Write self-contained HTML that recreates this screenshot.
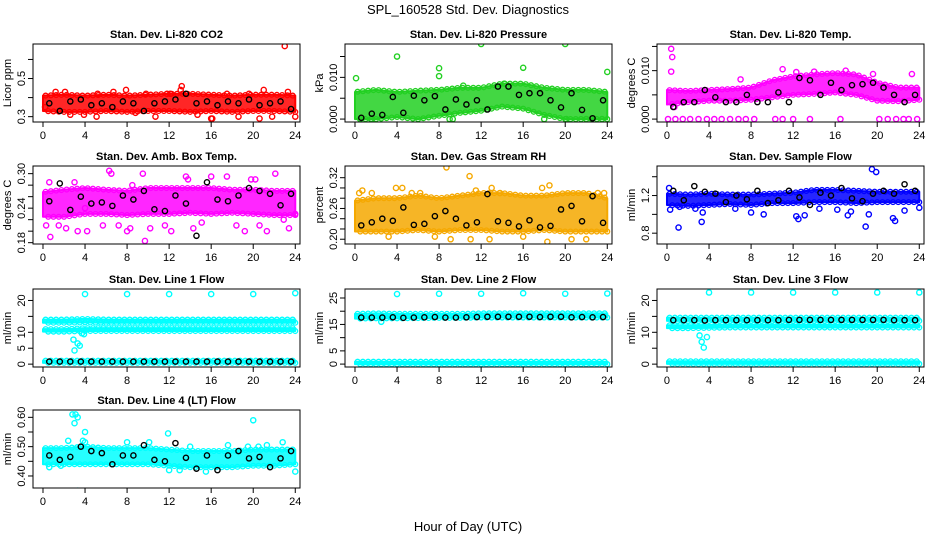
<!DOCTYPE html>
<html><head><meta charset="utf-8"><title>SPL_160528 Std. Dev. Diagnostics</title>
<style>
html,body{margin:0;padding:0;background:#fff;}
svg{display:block;font-family:"Liberation Sans",Arial,sans-serif;}
</style></head>
<body>
<svg id="chart" width="936" height="540" viewBox="0 0 936 540" xmlns="http://www.w3.org/2000/svg">
<rect x="0" y="0" width="936" height="540" fill="#fff"/>
<text x="468" y="14" font-size="13" text-anchor="middle">SPL_160528  Std. Dev. Diagnostics</text>
<text x="468" y="531" font-size="13" text-anchor="middle">Hour of Day (UTC)</text>
</svg>
<script>
// shared hour grids (categories)
const bandHours = [0,2,4,6,8,10,12,14,16,18,20,22,24];
const meanHours = [0.6,1.6,2.6,3.6,4.6,5.6,6.6,7.6,8.6,9.6,10.6,11.6,12.6,13.6,14.6,15.6,16.6,17.6,18.6,19.6,20.6,21.6,22.6,23.6];
const xTicks = [0,4,8,12,16,20,24];

// P1 CO2
const co2Lo = [0.33,0.325,0.325,0.33,0.325,0.33,0.33,0.325,0.33,0.325,0.33,0.33,0.325];
const co2Hi = [0.41,0.415,0.41,0.415,0.41,0.415,0.42,0.42,0.415,0.41,0.415,0.415,0.41];
const co2PtX = [0.2,1.2,2.6,3.9,5.1,6.7,7.9,8.8,10.7,11.8,13.2,13.1,14.7,16,16.1,17.5,19.6,20.6,21,21.8,23,23.3,24,5.2,9.8,18.6,2.1,12.1];
const co2PtY = [0.35,0.43,0.31,0.31,0.3,0.43,0.44,0.32,0.3,0.42,0.46,0.44,0.31,0.29,0.29,0.42,0.42,0.29,0.44,0.3,0.67,0.43,0.3,0.42,0.42,0.3,0.43,0.42];
const co2Mean = [0.37,0.33,0.38,0.39,0.36,0.37,0.35,0.38,0.37,0.33,0.37,0.38,0.39,0.42,0.37,0.38,0.36,0.38,0.37,0.39,0.36,0.37,0.38,0.34];
const co2YTicks = [0.3,0.4,0.5,0.6];
const co2YLabels = ['0.3','','0.5',''];

// P2 Pressure
const presLo = [0,0,0.0005,0,0.0008,0.0015,0.002,0.003,0.0025,0.001,0,0,0];
const presHi = [0.0065,0.007,0.0065,0.0068,0.007,0.0075,0.0075,0.0085,0.0085,0.0075,0.007,0.007,0.0065];
const presPtX = [0.1,4,8,8,12,16,20,24,0.5,1.6,9,9.3,18,20.1,22,23.5,10.3,14.2];
const presPtY = [0.0098,0.015,0.0122,0.0103,0.018,0.0123,0.018,0.0113,0,0,0,0,0,0,0,0,0.008,0.0085];
const presMean = [0.0003,0.0013,0.001,0.0053,0.0015,0.0056,0.0045,0.0055,0.0023,0.0047,0.0035,0.0045,0.0023,0.0078,0.0078,0.0058,0.0062,0.0062,0.0045,0.0028,0.0062,0.0022,0.0002,0.0045];
const presYTicks = [0,0.005,0.01,0.015];
const presYLabels = ['0.000','','0.010',''];

// P3 Li-820 Temp
const tempLo = [0.003,0.0035,0.0038,0.0038,0.004,0.0045,0.005,0.0052,0.0055,0.005,0.0038,0.0037,0.004];
const tempHi = [0.006,0.0058,0.006,0.0062,0.0065,0.008,0.0088,0.0092,0.0095,0.0092,0.0075,0.0065,0.0065];
const tempPtX = [0.1,0.8,1.5,2.2,3,3.8,4.5,5.2,6,6.8,7.5,8.3,10.3,11,12,13.6,16.5,20.2,21,21.8,22.5,23,23.8,0.4,0.5,0.4,0.7,23.3,7,11,14,17,12.3,19.6];
const tempPtY = [0,0,0,0,0,0,0,0,0,0,0,0,0,0,0,0,0,0,0,0,0,0,0,0.0145,0.0128,0.0098,0.0025,0.0093,0.0082,0.0103,0.0098,0.01,0.0097,0.0093];
const tempMean = [0.0025,0.0035,0.0035,0.006,0.0045,0.0035,0.0035,0.005,0.0035,0.0035,0.0055,0.0035,0.0085,0.008,0.005,0.0075,0.006,0.007,0.0072,0.0075,0.0065,0.005,0.0035,0.005];
const tempYTicks = [0,0.005,0.01,0.015];
const tempYLabels = ['0.000','','0.010',''];

// P4 Amb Box Temp
const ambLo = [0.225,0.225,0.23,0.23,0.228,0.23,0.23,0.232,0.23,0.232,0.23,0.228,0.228];
const ambHi = [0.268,0.272,0.275,0.272,0.27,0.275,0.275,0.275,0.275,0.272,0.272,0.27,0.27];
const ambPtX = [0.3,0.6,0.7,1.5,2.2,3.3,4,4.2,5.7,6.3,6.5,7.2,8,8.3,9.5,9.7,10.2,11.6,12.2,13.6,14.3,15.1,16,17.5,18.4,19.2,20.2,20.6,21.3,22.1,22.9,23.4,24,13.8,19.8,3.0,8.5];
const ambPtY = [0.21,0.285,0.19,0.21,0.205,0.2,0.24,0.2,0.21,0.305,0.3,0.21,0.2,0.205,0.3,0.183,0.205,0.21,0.2,0.295,0.205,0.215,0.295,0.295,0.21,0.2,0.29,0.21,0.2,0.3,0.22,0.205,0.23,0.29,0.29,0.285,0.28];
const ambMean = [0.252,0.283,0.237,0.26,0.248,0.25,0.244,0.262,0.255,0.27,0.238,0.235,0.262,0.248,0.192,0.285,0.255,0.252,0.262,0.275,0.27,0.265,0.245,0.265];
const ambYTicks = [0.18,0.2,0.22,0.24,0.26,0.28,0.3];
const ambYLabels = ['0.18','','','0.24','','','0.30'];

// P5 Gas Stream RH
const rhLo = [0.215,0.215,0.215,0.218,0.215,0.218,0.218,0.215,0.215,0.218,0.215,0.215,0.215];
const rhHi = [0.275,0.28,0.28,0.285,0.28,0.285,0.29,0.29,0.285,0.285,0.29,0.29,0.28];
const rhPtX = [0.4,0.7,1.6,3.2,3.9,4.5,5.4,7.6,8.7,9.1,10.9,11,11.5,13,13.8,17.8,18.2,18.3,18.5,20.6,22,23.1,23.7,6.2,16,12.8];
const rhPtY = [0.29,0.295,0.29,0.205,0.3,0.3,0.29,0.205,0.34,0.2,0.323,0.2,0.295,0.3,0.29,0.3,0.185,0.195,0.305,0.2,0.2,0.29,0.29,0.29,0.205,0.2];
const rhMean = [0.227,0.233,0.24,0.236,0.262,0.228,0.23,0.245,0.255,0.24,0.227,0.233,0.288,0.235,0.232,0.225,0.237,0.223,0.226,0.258,0.265,0.235,0.284,0.232];
const rhYTicks = [0.2,0.22,0.24,0.26,0.28,0.3,0.32];
const rhYLabels = ['0.20','','','0.26','','','0.32'];

// P6 Sample Flow
const sfLo = [1.1,1.09,1.1,1.11,1.1,1.12,1.12,1.13,1.13,1.12,1.13,1.13,1.13];
const sfHi = [1.22,1.21,1.22,1.21,1.21,1.22,1.23,1.26,1.26,1.25,1.24,1.24,1.24];
const sfPtX = [0.2,0.3,1.1,1.2,3.3,3.4,6.5,8,12.3,12.5,13.1,14.5,16.2,17.2,17.5,18.9,19.2,19.5,19.9,21.5,21.7,22.6,24,2.7,9.2];
const sfPtY = [1.28,1.05,0.86,1.08,0.92,1.02,1.06,1.02,0.98,0.95,0.99,1.06,1.05,0.99,1.03,0.87,1.0,1.48,1.45,0.96,0.93,1.04,1.07,1.06,1.0];
const sfMean = [1.25,1.15,1.3,1.24,1.22,1.13,1.2,1.16,1.25,1.12,1.15,1.25,1.18,1.1,1.23,1.2,1.28,1.17,1.14,1.22,1.25,1.22,1.32,1.25];
const sfYTicks = [0.8,1.0,1.2,1.4];
const sfYLabels = ['0.8','','1.2',''];

// P7 Line 1 Flow
const l1LoA = [13.0,13.0,13.1,13.0,13.0,13.0,13.0,13.0,13.0,13.0,13.0,13.0,13.0];
const l1HiA = [14.0,14.0,14.2,14.0,14.0,14.0,14.0,14.0,14.0,14.0,14.0,14.0,14.0];
const l1LoB = [10.2,10.2,10.4,10.4,10.4,10.4,10.4,10.4,10.4,10.4,10.4,10.4,10.4];
const l1HiB = [11.0,11.0,11.3,11.3,11.3,11.3,11.3,11.3,11.3,11.3,11.3,11.3,11.3];
const l1LoZ = [0.4,0.4,0.4,0.4,0.4,0.4,0.4,0.4,0.4,0.4,0.4,0.4,0.4];
const l1HiZ = [1.1,1.1,1.1,1.1,1.1,1.1,1.1,1.1,1.1,1.1,1.1,1.1,1.1];
const l1PtX = [4,8,12,16,20,24,2.9,3,3.3,3.5,3.7,3.9];
const l1PtY = [22,22,22,22,22,22.3,7.7,4.3,6.5,5.8,9.7,9.4];
const l1Mean = [0.8,0.8,0.8,0.8,0.8,0.8,0.8,0.8,0.8,0.8,0.8,0.8,0.8,0.8,0.8,0.8,0.8,0.8,0.8,0.8,0.8,0.8,0.8,0.8];
const l1YTicks = [0,5,10,15,20];
const l1YLabels = ['0','5','10','','20'];

// P8 Line 2 Flow
const l2LoA = [17.2,17.3,17.3,17.4,17.5,17.5,17.6,17.6,17.6,17.6,17.6,17.6,17.6];
const l2HiA = [19.0,19.2,19.0,19.0,19.0,19.0,19.2,19.2,19.2,19.2,19.2,19.2,19.2];
const l2LoZ = [0,0,0,0,0,0,0,0,0,0,0,0,0];
const l2HiZ = [0.9,0.9,0.9,0.9,0.9,0.9,0.9,0.9,0.9,0.9,0.9,0.9,0.9];
const l2PtX = [4,8,12,16,20,24,2.5];
const l2PtY = [26.5,26.6,26.6,26.8,26.6,26.7,16];
const l2Mean = [17.6,17.6,17.6,17.7,17.5,17.6,17.7,17.8,17.6,17.6,17.7,17.8,17.9,17.9,17.9,17.9,17.9,17.8,17.9,17.9,17.7,17.8,17.7,17.8];
const l2YTicks = [0,5,10,15,20,25];
const l2YLabels = ['0','5','','15','','25'];

// P9 Line 3 Flow
const l3LoA = [13.6,13.6,13.6,13.6,13.6,13.6,13.6,13.6,13.6,13.6,13.6,13.6,13.6];
const l3HiA = [14.6,14.6,14.6,14.6,14.6,14.6,14.6,14.6,14.6,14.6,14.6,14.6,14.6];
const l3LoB = [11.3,11.3,11.4,11.5,11.5,11.5,11.5,11.5,11.5,11.5,11.5,11.5,11.5];
const l3HiB = [12.2,12.2,12.3,12.4,12.4,12.4,12.4,12.4,12.4,12.4,12.4,12.4,12.4];
const l3LoZ = [0.1,0.1,0.1,0.1,0.1,0.1,0.1,0.1,0.1,0.1,0.1,0.1,0.1];
const l3HiZ = [0.9,0.9,0.9,0.9,0.9,0.9,0.9,0.9,0.9,0.9,0.9,0.9,0.9];
const l3PtX = [4,8,12,16,20,24,3.1,3.3,3.5,3.8];
const l3PtY = [22.5,22.5,22.5,22.5,22.5,22.5,9,7,5.2,8.5];
const l3Mean = [13.8,13.8,13.8,13.7,13.8,13.8,13.8,13.8,13.8,13.8,13.8,13.9,13.9,13.9,13.9,13.9,13.9,13.9,13.9,13.9,13.9,13.8,13.8,13.8];
const l3YTicks = [0,5,10,15,20];
const l3YLabels = ['0','','10','','20'];

// P10 Line 4 (LT) Flow
const l4Lo = [0.44,0.44,0.44,0.44,0.44,0.44,0.435,0.43,0.43,0.43,0.435,0.435,0.44];
const l4Hi = [0.495,0.495,0.5,0.495,0.495,0.495,0.49,0.485,0.485,0.485,0.49,0.49,0.49];
const l4PtX = [0.6,2.4,2.8,3,3.1,3.3,3.3,3.8,4,4,8,10.1,11.9,12,14,20,20.5,21.3,22.8,24,1.7,17.6,19.5,15.5,13];
const l4PtY = [0.43,0.52,0.61,0.58,0.61,0.35,0.6,0.52,0.55,0.515,0.515,0.515,0.545,0.42,0.5,0.59,0.5,0.505,0.515,0.415,0.435,0.505,0.5,0.415,0.42];
const l4Mean = [0.47,0.455,0.465,0.5,0.485,0.478,0.44,0.47,0.47,0.505,0.455,0.45,0.512,0.462,0.425,0.47,0.42,0.47,0.485,0.46,0.465,0.43,0.46,0.485];
const l4YTicks = [0.4,0.45,0.5,0.55,0.6];
const l4YLabels = ['0.40','','0.50','','0.60'];

const NS = 'http://www.w3.org/2000/svg';
const svg = document.getElementById('chart');
const colLeft = [33,345,657];
const rowTop = [44,166,289,410];
const boxW = 267, boxH = 78;
const xDom = [-0.95,24.45];

function mk(tag, attrs, parent){
  const e = document.createElementNS(NS, tag);
  for (const k in attrs) e.setAttribute(k, attrs[k]);
  (parent||svg).appendChild(e);
  return e;
}

function interp(arr, h){
  const step = bandHours[1] - bandHours[0];
  const i = Math.min(Math.floor(h / step), bandHours.length - 2);
  const f = (h - bandHours[i]) / step;
  return arr[i] + (arr[i + 1] - arr[i]) * f;
}

function panel(cfg){
  const L = colLeft[cfg.col], T = rowTop[cfg.row];
  const g = mk('g', {});
  
  
  const sx = v => L + (v - xDom[0]) / (xDom[1] - xDom[0]) * boxW;
  const sy = v => T + boxH - (v - cfg.yDom[0]) / (cfg.yDom[1] - cfg.yDom[0]) * boxH;
  const clipId = 'clip-' + cfg.name;
  const cp = mk('clipPath', {id: clipId}, g);
  mk('rect', {x: L, y: T, width: boxW, height: boxH}, cp);
  const data = mk('g', {'clip-path': 'url(#' + clipId + ')'}, g);
  // bands
  cfg.bands.forEach((b) => {
    let pts = [];
    for (let i = 0; i < bandHours.length; i++) pts.push(sx(bandHours[i]) + ',' + sy(b[1][i]));
    for (let i = bandHours.length - 1; i >= 0; i--) pts.push(sx(bandHours[i]) + ',' + sy(b[0][i]));
    const p = mk('polygon', {points: pts.join(' '), fill: cfg.color, 'fill-opacity': 0.85, stroke: cfg.color, 'stroke-width': 2, 'stroke-linejoin': 'round'}, data);
    
    
    // ragged edge circles derived from band edges
    for (let h = 0.25; h < 24; h += 0.5) {
      const e1 = mk('circle', {cx: sx(h), cy: sy(interp(b[1], h)), r: 2.4, fill: 'none', stroke: cfg.color, 'stroke-width': 1.3}, data);
      
      
      const e2 = mk('circle', {cx: sx(h + 0.25), cy: sy(interp(b[0], Math.min(h + 0.25, 24))), r: 2.4, fill: 'none', stroke: cfg.color, 'stroke-width': 1.3}, data);
      
      
    }
  });
  // scatter points
  for (let i = 0; i < cfg.ptX.length; i++) {
    const c = mk('circle', {cx: sx(cfg.ptX[i]), cy: sy(cfg.ptY[i]), r: 2.6, fill: 'none', stroke: cfg.color, 'stroke-width': 1.4}, data);
    
    
  }
  // black mean points
  for (let i = 0; i < cfg.mean.length; i++) {
    const c = mk('circle', {cx: sx(meanHours[i]), cy: sy(cfg.mean[i]), r: 2.6, fill: 'none', stroke: '#000', 'stroke-width': 1.4}, data);
    
    
  }
  // box
  const box = mk('rect', {x: L, y: T, width: boxW, height: boxH, fill: 'none', stroke: '#000', 'stroke-width': 1}, g);
  
  
  // title
  const t = mk('text', {x: L + boxW / 2, y: T - 6, 'font-size': 11, 'font-weight': 'bold', 'text-anchor': 'middle'}, g);
  t.textContent = cfg.title;
  
  
  // x axis
  const xa = mk('g', {}, g);
  
  
  const B = T + boxH;
  mk('line', {x1: sx(xTicks[0]), x2: sx(xTicks[xTicks.length - 1]), y1: B, y2: B, stroke: '#000'}, xa);
  xTicks.forEach(v => {
    mk('line', {x1: sx(v), x2: sx(v), y1: B, y2: B + 5, stroke: '#000'}, xa);
    const tl = mk('text', {x: sx(v), y: B + 17, 'font-size': 11, 'text-anchor': 'middle'}, xa);
    tl.textContent = String(v);
  });
  // y axis
  const ya = mk('g', {}, g);
  
  
  mk('line', {x1: L, x2: L, y1: sy(cfg.yTicks[0]), y2: sy(cfg.yTicks[cfg.yTicks.length - 1]), stroke: '#000'}, ya);
  cfg.yTicks.forEach((v, i) => {
    mk('line', {x1: L - 5, x2: L, y1: sy(v), y2: sy(v), stroke: '#000'}, ya);
    if (cfg.yLabels[i]) {
      const yl = mk('text', {x: 0, y: 0, 'font-size': 11, 'text-anchor': 'middle', transform: 'translate(' + (L - 8) + ',' + sy(v) + ') rotate(-90)'}, ya);
      yl.textContent = cfg.yLabels[i];
    }
  });
  const yt = mk('text', {x: 0, y: 0, 'font-size': 11, 'text-anchor': 'middle', transform: 'translate(' + (L - 22) + ',' + (T + boxH / 2) + ') rotate(-90)'}, g);
  yt.textContent = cfg.ylab;
  
  
}

panel({name:'co2', title:'Stan. Dev. Li-820 CO2', ylab:'Licor ppm', col:0, row:0, color:'#ff0000', yDom:[0.272,0.681], yTicks:co2YTicks, yLabels:co2YLabels, bands:[[co2Lo,co2Hi]], ptX:co2PtX, ptY:co2PtY, mean:co2Mean});
panel({name:'pressure', title:'Stan. Dev. Li-820 Pressure', ylab:'kPa', col:1, row:0, color:'#22d022', yDom:[-0.0007,0.018], yTicks:presYTicks, yLabels:presYLabels, bands:[[presLo,presHi]], ptX:presPtX, ptY:presPtY, mean:presMean});
panel({name:'li820-temp', title:'Stan. Dev. Li-820 Temp.', ylab:'degrees C', col:2, row:0, color:'#ff00ff', yDom:[-0.0006,0.0155], yTicks:tempYTicks, yLabels:tempYLabels, bands:[[tempLo,tempHi]], ptX:tempPtX, ptY:tempPtY, mean:tempMean});
panel({name:'amb-box-temp', title:'Stan. Dev. Amb. Box Temp.', ylab:'degrees C', col:0, row:1, color:'#ff00ff', yDom:[0.1777,0.3133], yTicks:ambYTicks, yLabels:ambYLabels, bands:[[ambLo,ambHi]], ptX:ambPtX, ptY:ambPtY, mean:ambMean});
panel({name:'gas-rh', title:'Stan. Dev. Gas Stream RH', ylab:'percent', col:1, row:1, color:'#f5a800', yDom:[0.1907,0.3428], yTicks:rhYTicks, yLabels:rhYLabels, bands:[[rhLo,rhHi]], ptX:rhPtX, ptY:rhPtY, mean:rhMean});
panel({name:'sample-flow', title:'Stan. Dev. Sample Flow', ylab:'ml/min', col:2, row:1, color:'#0000ff', yDom:[0.685,1.514], yTicks:sfYTicks, yLabels:sfYLabels, bands:[[sfLo,sfHi]], ptX:sfPtX, ptY:sfPtY, mean:sfMean});
panel({name:'line1-flow', title:'Stan. Dev. Line 1 Flow', ylab:'ml/min', col:0, row:2, color:'#00ffff', yDom:[-0.9,23.6], yTicks:l1YTicks, yLabels:l1YLabels, bands:[[l1LoA,l1HiA],[l1LoB,l1HiB],[l1LoZ,l1HiZ]], ptX:l1PtX, ptY:l1PtY, mean:l1Mean});
panel({name:'line2-flow', title:'Stan. Dev. Line 2 Flow', ylab:'ml/min', col:1, row:2, color:'#00ffff', yDom:[-1.1,28.4], yTicks:l2YTicks, yLabels:l2YLabels, bands:[[l2LoA,l2HiA],[l2LoZ,l2HiZ]], ptX:l2PtX, ptY:l2PtY, mean:l2Mean});
panel({name:'line3-flow', title:'Stan. Dev. Line 3 Flow', ylab:'ml/min', col:2, row:2, color:'#00ffff', yDom:[-0.9,23.6], yTicks:l3YTicks, yLabels:l3YLabels, bands:[[l3LoA,l3HiA],[l3LoB,l3HiB],[l3LoZ,l3HiZ]], ptX:l3PtX, ptY:l3PtY, mean:l3Mean});
panel({name:'line4-flow', title:'Stan. Dev. Line 4 (LT) Flow', ylab:'ml/min', col:0, row:3, color:'#00ffff', yDom:[0.359,0.625], yTicks:l4YTicks, yLabels:l4YLabels, bands:[[l4Lo,l4Hi]], ptX:l4PtX, ptY:l4PtY, mean:l4Mean});
</script>
</body></html>
